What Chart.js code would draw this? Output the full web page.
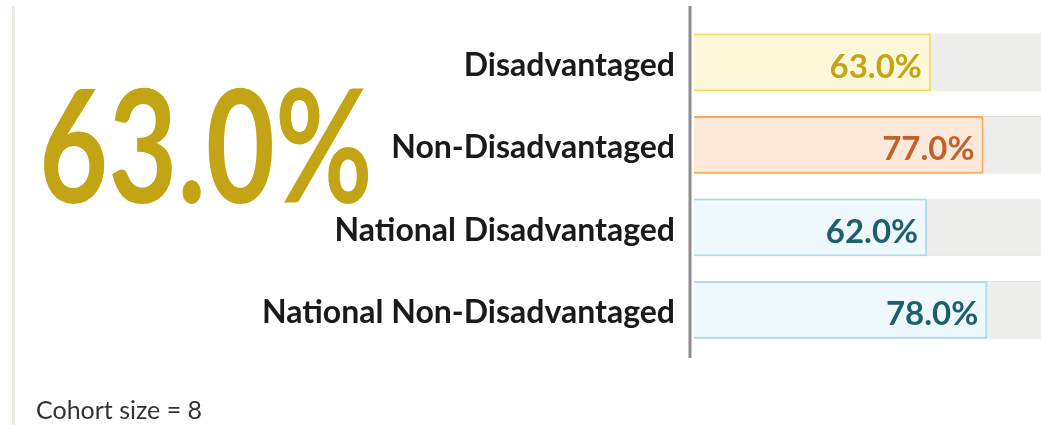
<!DOCTYPE html>
<html>
<head>
<meta charset="utf-8">
<script src="https://cdn.jsdelivr.net/npm/chart.js@4"></script>
<style>
  html, body { margin: 0; padding: 0; background: #fff; overflow: hidden; width: 1041px; height: 425px; }
  #wrap { position: absolute; left: 0; top: 0; width: 1070px; height: 425px; }
  #leftRule { position: absolute; left: 12px; top: 6px; width: 3px; height: 419px; background: #ebebe4; }
  #bigNum { position: absolute; left: 39px; top: 63px; font: bold 158px Lato, sans-serif; line-height: 1; color: #c3a414; transform: scaleX(0.755); transform-origin: 0 0; white-space: nowrap; }
  #cohort { position: absolute; left: 36px; top: 397px; font: 25px Lato, sans-serif; line-height: 1; color: #333; }
</style>
</head>
<body>
<div id="leftRule"></div>
<div id="wrap"><canvas id="gapChart" width="1070" height="425"></canvas></div>
<div id="bigNum"></div>
<div id="cohort"></div>
<script>
// Sample data
const groups = ['Disadvantaged', 'Non-Disadvantaged', 'National Disadvantaged', 'National Non-Disadvantaged'];
const rates = [63.0, 77.0, 62.0, 78.0];
const cohortSize = 8;

// Colours per bar
const fills = ['#fdf8d9', '#fde8da', '#eef8fd', '#eef8fd'];
const edges = ['#f4dc5c', '#f8a95c', '#aadcea', '#aadcea'];
const textColors = ['#c3a414', '#c0622c', '#1e5f6e', '#1e5f6e'];

document.getElementById('bigNum').textContent = rates[0].toFixed(1) + '%';
document.getElementById('cohort').textContent = 'Cohort size = ' + cohortSize;

// axis line + value labels inside the bars
const barExtras = {
    id: 'barExtras',
    afterDatasetsDraw(chart) {
        const ctx = chart.ctx;
        ctx.save();
        ctx.strokeStyle = '#8c8c8c';
        ctx.lineWidth = 3;
        ctx.beginPath();
        ctx.moveTo(690, 6);
        ctx.lineTo(690, 358);
        ctx.stroke();

        ctx.font = 'bold 33px Lato, sans-serif';
        ctx.textAlign = 'right';
        ctx.textBaseline = 'middle';
        chart.getDatasetMeta(0).data.forEach(function(bar, i) {
            ctx.fillStyle = textColors[i];
            ctx.fillText(rates[i].toFixed(1) + '%', bar.x - 9, bar.y + 5);
        });
        ctx.restore();
    }
};

const config = {
    type: 'bar',
    data: {
        labels: groups,
        datasets: [{
            data: rates,
            backgroundColor: fills,
            borderColor: edges,
            borderWidth: 2,
            borderSkipped: 'start',
            barPercentage: 0.7,
            categoryPercentage: 1,
            order: 0
        }, {
            data: groups.map(function() { return 100; }),
            backgroundColor: '#ededeb',
            borderColor: '#e2e2dd',
            borderWidth: { top: 1, bottom: 1, left: 0, right: 0 },
            borderSkipped: false,
            barPercentage: 0.7,
            categoryPercentage: 1,
            order: 1
        }]
    },
    options: {
        indexAxis: 'y',
        responsive: false,
        animation: false,
        grouped: false,
        layout: { padding: { top: 21, bottom: 74, left: 0, right: 0 } },
        plugins: {
            legend: { display: false },
            tooltip: { enabled: false }
        },
        scales: {
            x: { min: 0, max: 100, display: false },
            y: {
                grid: { display: false, drawTicks: false },
                border: { display: false },
                ticks: {
                    color: '#1a1a1a',
                    padding: 19,
                    labelOffset: 3,
                    font: { family: 'Lato', size: 32, weight: 'bold' }
                },
                afterFit: function(scale) {
                    scale.width = 694;
                    scale.paddingTop = 0;
                    scale.paddingBottom = 0;
                }
            }
        }
    },
    plugins: [barExtras]
};

const canvas = document.getElementById('gapChart');
var myChart = new Chart(canvas, config);
</script>
</body>
</html>
